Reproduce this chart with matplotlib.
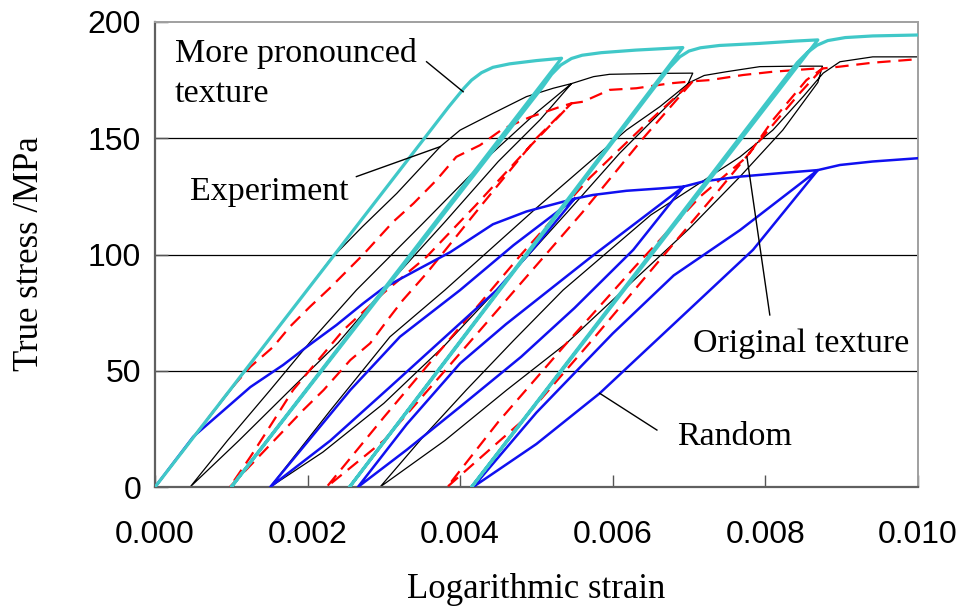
import matplotlib
matplotlib.use("Agg")
import matplotlib.pyplot as plt
from matplotlib import font_manager

# ---- stress-strain paths (logarithmic strain, true stress in MPa) ----
# each path runs load -> unload -> reload -> ... as one continuous record

# Experiment
exp_strain = [
    0.0, 0.00100, 0.00200, 0.00229, 0.00272, 0.00317, 0.00374, 0.00400, 0.00443, 0.00487, 0.00522, 0.00546,
    # unload 1
    0.00505, 0.00450, 0.00380, 0.00299, 0.00240, 0.00177, 0.00110, 0.00046,
    # reload 1
    0.00095, 0.00151, 0.00205, 0.00264, 0.00350, 0.00440, 0.00500, 0.00546,
    0.00575, 0.00596, 0.00662, 0.00705,
    # unload 2
    0.00697, 0.00644, 0.00609, 0.00540, 0.00460, 0.00380, 0.00300, 0.00220, 0.00151,
    # reload 2
    0.00230, 0.00308, 0.00380, 0.00500, 0.00618, 0.00662, 0.00701,
    0.00720, 0.00749, 0.00793, 0.00840, 0.00875,
    # unload 3
    0.00869, 0.00823, 0.00767, 0.00700, 0.00614, 0.00540, 0.00461, 0.00380, 0.00295,
    # reload 3
    0.00350, 0.00408, 0.00470, 0.00535, 0.00650, 0.00767, 0.00810, 0.00850, 0.00876,
    0.00898, 0.00941, 0.01000,
]
exp_stress = [
    0.0, 42.0, 85.0, 97.6, 112.0, 126.3, 146.4, 153.5, 160.7, 167.9, 171.5, 173.5,
    158.0, 140.0, 114.0, 84.7, 62.0, 41.7, 20.0, 0.0,
    20.0, 41.7, 63.0, 84.7, 113.0, 143.0, 161.0, 173.5,
    176.5, 177.5, 177.9, 178.0,
    172.2, 155.0, 143.5, 118.0, 89.0, 61.0, 36.0, 15.0, 0.0,
    33.0, 64.6, 84.7, 120.0, 153.5, 163.6, 174.0,
    177.0, 178.6, 180.8, 181.0, 181.0,
    174.0, 153.5, 133.5, 111.0, 84.7, 62.0, 41.7, 20.0, 0.0,
    21.0, 41.7, 63.0, 84.7, 117.0, 142.0, 153.5, 168.0, 178.0,
    182.9, 185.0, 185.0,
]

# Original texture (simulation)
orig_strain = [
    0.0, 0.00098, 0.00125, 0.00155, 0.00177, 0.00203, 0.00229, 0.00273, 0.00312, 0.00339, 0.00369, 0.00395,
    0.00426, 0.00456, 0.00491, 0.00531, 0.00546,
    # unload 1
    0.00500, 0.00430, 0.00356, 0.00325, 0.00308, 0.00282, 0.00256, 0.00221, 0.00194, 0.00098,
    # reload 1
    0.00125, 0.00142, 0.00181, 0.00247, 0.00299, 0.00356, 0.00420, 0.00490, 0.00546,
    0.00561, 0.00596, 0.00631, 0.00675, 0.00705,
    # unload 2
    0.00640, 0.00560, 0.00470, 0.00380, 0.00300, 0.00225,
    # reload 2
    0.00300, 0.00390, 0.00480, 0.00570, 0.00640, 0.00705,
    0.00727, 0.00771, 0.00810, 0.00867, 0.00875,
    # unload 3
    0.00845, 0.00797, 0.00740, 0.00655, 0.00570, 0.00480, 0.00383,
    # reload 3
    0.00450, 0.00540, 0.00630, 0.00715, 0.00776, 0.00810, 0.00854, 0.00875,
    0.00898, 0.00941, 0.01000,
]
orig_stress = [
    0.0, 41.7, 51.7, 60.3, 69.0, 77.5, 85.5, 100.0, 114.0, 122.0, 132.0, 142.0,
    147.0, 154.0, 159.0, 163.5, 165.0,
    150.0, 122.0, 91.9, 80.4, 73.2, 61.8, 54.6, 41.7, 33.0, 0.0,
    13.0, 21.6, 41.7, 67.5, 83.3, 99.0, 121.0, 146.0, 165.0,
    165.7, 170.8, 171.5, 173.6, 174.5,
    150.0, 118.0, 84.0, 50.0, 20.0, 0.0,
    30.0, 65.0, 100.0, 133.0, 155.0, 174.5,
    175.0, 177.2, 178.6, 180.0, 180.0,
    169.3, 150.7, 128.0, 95.0, 62.0, 28.0, 0.0,
    28.0, 62.0, 95.0, 125.0, 142.0, 157.8, 175.0, 180.0,
    180.8, 182.5, 184.0,
]

# More pronounced texture (simulation)
strong_strain = [
    0.0, 0.00385, 0.00395, 0.00405, 0.00415, 0.00428, 0.00443, 0.00465, 0.00500, 0.00533,
    0.00100,
    0.00508, 0.00520, 0.00532, 0.00546, 0.00560, 0.00585, 0.00630, 0.00692,
    0.00255,
    0.00675, 0.00688, 0.00700, 0.00715, 0.00740, 0.00793, 0.00840, 0.00869,
    0.00415,
    0.00842, 0.00855, 0.00868, 0.00882, 0.00905, 0.00941, 0.01000,
]
strong_stress = [
    0.0, 163.5, 167.5, 171.5, 175.0, 178.2, 180.5, 182.0, 183.4, 184.4,
    0.0,
    172.0, 177.5, 181.5, 184.3, 185.7, 186.8, 187.9, 189.0,
    0.0,
    180.5, 185.0, 187.5, 188.9, 189.9, 190.8, 191.8, 192.3,
    0.0,
    182.5, 186.8, 190.0, 192.0, 193.3, 194.0, 194.4,
]

# Random texture (simulation)
rand_strain = [
    0.0, 0.00050, 0.00090, 0.00125, 0.00168, 0.00199, 0.00238, 0.00273, 0.00299, 0.00343, 0.00387,
    0.00443, 0.00487, 0.00550,
    # unload 1
    0.00500, 0.00448, 0.00400, 0.00308, 0.00230, 0.00151,
    # reload 1
    0.00256, 0.00321, 0.00400, 0.00470, 0.00550,
    0.00574, 0.00618, 0.00662, 0.00693,
    # unload 2
    0.00627, 0.00550, 0.00480, 0.00400, 0.00330, 0.00266,
    # reload 2
    0.00330, 0.00400, 0.00460, 0.00570, 0.00693,
    0.00720, 0.00767, 0.00820, 0.00869,
    # unload 3
    0.00784, 0.00700, 0.00583, 0.00500, 0.00417,
    # reload 3
    0.00500, 0.00600, 0.00680, 0.00767, 0.00869,
    0.00898, 0.00941, 0.01000,
]
rand_stress = [
    0.0, 21.6, 33.0, 43.0, 52.5, 60.3, 69.7, 79.0, 85.5, 93.3, 101.0,
    113.0, 118.5, 124.0,
    104.0, 84.7, 70.4, 43.0, 20.0, 0.0,
    41.7, 64.6, 84.7, 104.0, 124.0,
    125.6, 127.4, 128.4, 129.2,
    102.0, 77.0, 56.0, 34.5, 16.0, 0.0,
    27.0, 53.2, 70.0, 98.5, 129.2,
    131.5, 133.5, 135.0, 136.3,
    102.0, 76.2, 40.3, 18.5, 0.0,
    32.0, 66.0, 91.0, 110.5, 136.3,
    138.5, 140.0, 141.4,
]

x_ticks = [0.000, 0.002, 0.004, 0.006, 0.008, 0.010]
x_tick_labels = ["0.000", "0.002", "0.004", "0.006", "0.008", "0.010"]
y_ticks = [0, 50, 100, 150, 200]

# condensed face for the tick numbers when available
try:
    font_manager.findfont("Liberation Sans Narrow", fallback_to_default=False)
    tick_family, tick_size = "Liberation Sans Narrow", 27
except ValueError:
    tick_family, tick_size = "Liberation Sans", 23

serif = ["Liberation Serif", "DejaVu Serif"]

# ---- figure ----
fig = plt.figure(figsize=(9.57, 6.09), dpi=100)
ax = fig.add_axes([0.162, 0.2003, 0.797, 0.7636])

for y in (50, 100, 150):
    ax.axhline(y, color="black", linewidth=0.9, zorder=1)

ax.plot(exp_strain, exp_stress, color="black", linewidth=0.9, zorder=2)
ax.plot(orig_strain, orig_stress, color="#ff0000", linewidth=1.6,
        dashes=(6, 3.5), zorder=3)
ax.plot(rand_strain, rand_stress, color="#1010f0", linewidth=1.8, zorder=4)
ax.plot(strong_strain, strong_stress, color="#40c8c8", linewidth=2.3, zorder=5)

ax.set_xlim(0, 0.010)
ax.set_ylim(0, 200)
ax.set_xticks(x_ticks)
ax.set_xticklabels(x_tick_labels)
ax.set_yticks(y_ticks)
ax.tick_params(axis="x", direction="in", length=9, width=1, color="#555555",
               pad=24, labelsize=tick_size)
ax.tick_params(axis="y", direction="in", length=9, width=1, color="#555555",
               pad=10, labelsize=tick_size)
for lab in ax.get_xticklabels() + ax.get_yticklabels():
    lab.set_family([tick_family, "DejaVu Sans"])

for side in ("left", "bottom"):
    ax.spines[side].set_color("#606060")
    ax.spines[side].set_linewidth(1.6)
for side in ("top", "right"):
    ax.spines[side].set_color("#a0a0a0")
    ax.spines[side].set_linewidth(1.4)

fig.text(536 / 957, 1 - 590 / 609, "Logarithmic strain", family=serif,
         fontsize=25, ha="center", va="center")
fig.text(30 / 957, 1 - 254 / 609, "True stress /MPa", family=serif,
         fontsize=25, ha="center", va="center", rotation=90)

# ---- curve labels with leader lines ----
lab_kw = dict(family=serif, fontsize=24.5, color="black", va="baseline", zorder=6)
ax.text(0.00026, 182.9, "More pronounced", **lab_kw)
ax.text(0.00026, 165.7, "texture", **lab_kw)
ax.text(0.00046, 123.4, "Experiment", **lab_kw)
ax.text(0.00705, 58.0, "Original texture", **lab_kw)
ax.text(0.00684, 18.0, "Random", **lab_kw)

lead_kw = dict(color="black", linewidth=1.0, zorder=6)
ax.plot([0.00356, 0.00404], [182.9, 170.0], **lead_kw)
ax.plot([0.00264, 0.00374], [133.5, 146.4], **lead_kw)
ax.plot([0.00806, 0.00776], [74.0, 142.0], **lead_kw)
ax.plot([0.00658, 0.00583], [24.5, 40.3], **lead_kw)

fig.savefig("out.png", dpi=100)
